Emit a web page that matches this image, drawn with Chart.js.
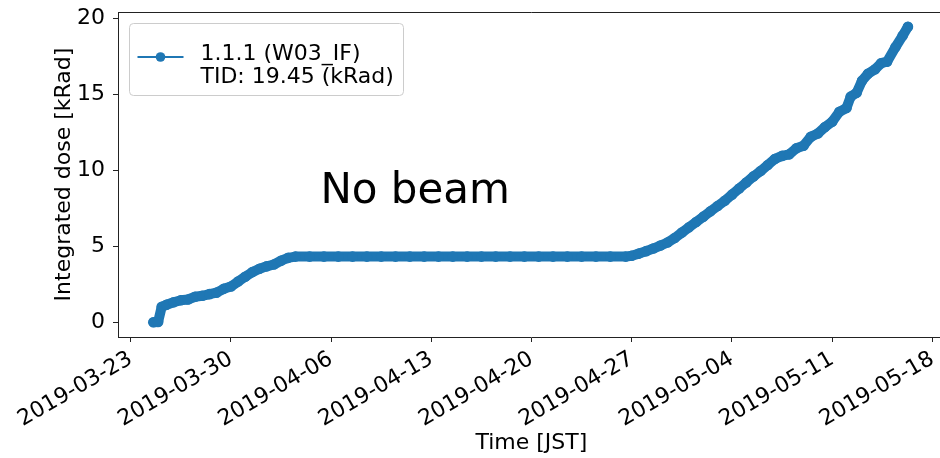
<!DOCTYPE html>
<html><head><meta charset="utf-8">
<script src="https://cdn.jsdelivr.net/npm/chart.js@4/dist/chart.umd.min.js"></script>
<style>
html,body{margin:0;padding:0;overflow:hidden;background:#fff;width:940px;height:458px;}
#wrap{position:relative;width:950px;height:458px;}
</style></head><body>
<div id="wrap"><canvas id="c" width="950" height="458"></canvas></div>
<script>
// ---- data ----
const times = [
 '2019-03-24 14:00','2019-03-24 22:00','2019-03-25 04:00','2019-03-25 12:00',
 '2019-03-26 00:00','2019-03-26 12:00','2019-03-27 00:00','2019-03-27 12:00',
 '2019-03-28 00:00','2019-03-28 12:00','2019-03-29 00:00','2019-03-29 12:00',
 '2019-03-30 00:00','2019-03-30 12:00','2019-03-31 00:00','2019-03-31 12:00',
 '2019-04-01 00:00','2019-04-01 12:00','2019-04-02 00:00','2019-04-02 12:00',
 '2019-04-03 00:00','2019-04-03 12:00','2019-04-04 12:00','2019-04-05 12:00',
 '2019-04-06 12:00','2019-04-07 12:00','2019-04-08 12:00','2019-04-09 12:00',
 '2019-04-10 12:00','2019-04-11 12:00','2019-04-12 12:00','2019-04-13 12:00',
 '2019-04-14 12:00','2019-04-15 12:00','2019-04-16 12:00','2019-04-17 12:00',
 '2019-04-18 12:00','2019-04-19 12:00','2019-04-20 12:00','2019-04-21 12:00',
 '2019-04-22 12:00','2019-04-23 12:00','2019-04-24 12:00','2019-04-25 12:00',
 '2019-04-26 14:00','2019-04-27 00:00','2019-04-27 12:00','2019-04-28 00:00',
 '2019-04-28 12:00','2019-04-29 00:00','2019-04-29 12:00','2019-04-30 00:00',
 '2019-04-30 12:00','2019-05-01 00:00','2019-05-01 12:00','2019-05-02 00:00',
 '2019-05-02 12:00','2019-05-03 00:00','2019-05-03 12:00','2019-05-04 00:00',
 '2019-05-04 12:00','2019-05-05 00:00','2019-05-05 12:00','2019-05-06 00:00',
 '2019-05-06 12:00','2019-05-07 00:00','2019-05-07 12:00','2019-05-08 00:00',
 '2019-05-08 12:00','2019-05-09 00:00','2019-05-09 12:00','2019-05-10 00:00',
 '2019-05-10 12:00','2019-05-11 00:00','2019-05-11 12:00','2019-05-12 00:00',
 '2019-05-12 07:00','2019-05-12 17:00','2019-05-13 02:00','2019-05-13 12:00',
 '2019-05-14 00:00','2019-05-14 10:00','2019-05-14 20:00','2019-05-15 10:00',
 '2019-05-15 22:00','2019-05-16 07:00'
];
const dose = [
 0.00, 0.02, 1.02, 1.15,
 1.32, 1.45, 1.50, 1.68,
 1.74, 1.85, 1.95, 2.20,
 2.35, 2.68, 3.00, 3.30,
 3.52, 3.68, 3.80, 4.05,
 4.24, 4.32, 4.32, 4.32,
 4.32, 4.32, 4.32, 4.32,
 4.32, 4.32, 4.32, 4.32,
 4.32, 4.32, 4.32, 4.32,
 4.32, 4.32, 4.32, 4.32,
 4.32, 4.32, 4.32, 4.32,
 4.32, 4.38, 4.52, 4.68,
 4.85, 5.05, 5.25, 5.55,
 5.90, 6.25, 6.60, 6.95,
 7.30, 7.65, 8.00, 8.40,
 8.80, 9.20, 9.60, 9.95,
 10.35, 10.75, 10.95, 11.05,
 11.45, 11.62, 12.20, 12.42,
 12.85, 13.20, 13.85, 14.10,
 14.85, 15.10, 15.90, 16.35,
 16.65, 17.05, 17.15, 18.10,
 18.85, 19.45
];
const xTickDates = ['2019-03-23','2019-03-30','2019-04-06','2019-04-13','2019-04-20',
                    '2019-04-27','2019-05-04','2019-05-11','2019-05-18'];
const yTickValues = [0, 5, 10, 15, 20];
const seriesLabel = ['1.1.1 (W03_IF)', 'TID: 19.45 (kRad)'];
const annotationText = 'No beam';
const annotationAt = ['2019-04-05 06:00', 7.85];
const xTitle = 'Time [JST]';
const yTitle = 'Integrated dose [kRad]';
const xRange = ['2019-03-22 02:44', '2019-05-18 20:38'];
const yRange = [-0.97, 20.42];

// ---- helpers ----
function toMs(s){ const p = s.split(' '); return Date.parse(p[0] + 'T' + (p[1] || '00:00') + ':00Z'); }
function fmtDate(v){ return new Date(v).toISOString().slice(0, 10); }
const FONT = "'DejaVu Sans', sans-serif";
const FS = 22;
const BLUE = '#1f77b4';
const AXIS = '#222222';

const framePlugin = {
  id: 'frame',
  afterDraw(chart){
    const {ctx, chartArea: a} = chart;
    ctx.save();
    ctx.strokeStyle = AXIS; ctx.lineWidth = 1;
    ctx.beginPath();
    ctx.moveTo(a.left, a.top + 0.5); ctx.lineTo(a.right, a.top + 0.5);
    ctx.moveTo(a.right - 0.5, a.top); ctx.lineTo(a.right - 0.5, a.bottom);
    ctx.stroke();
    ctx.restore();
  }
};

const annotationPlugin = {
  id: 'noBeam',
  afterDatasetsDraw(chart){
    const {ctx, scales} = chart;
    const x = scales.x.getPixelForValue(toMs(annotationAt[0]));
    const y = scales.y.getPixelForValue(annotationAt[1]);
    ctx.save();
    ctx.font = "42px 'DejaVu Sans', sans-serif";
    ctx.fillStyle = '#000';
    ctx.textAlign = 'left'; ctx.textBaseline = 'alphabetic';
    ctx.fillText(annotationText, x, y);
    ctx.restore();
  }
};

const legendPlugin = {
  id: 'insideLegend',
  afterDraw(chart){
    const {ctx, chartArea: a} = chart;
    const ds = chart.data.datasets[0];
    const lines = ds.label.split('\n');
    const bx = a.left + 11.5, by = a.top + 11.5, bw = 274, bh = 72;
    ctx.save();
    ctx.beginPath();
    ctx.roundRect(bx, by, bw, bh, 4);
    ctx.fillStyle = 'rgba(255,255,255,0.8)';
    ctx.fill();
    ctx.strokeStyle = '#cccccc'; ctx.lineWidth = 1;
    ctx.stroke();
    const ly = by + 33.5;
    ctx.strokeStyle = ds.borderColor; ctx.lineWidth = 2;
    ctx.beginPath(); ctx.moveTo(bx + 8, ly); ctx.lineTo(bx + 54, ly); ctx.stroke();
    ctx.fillStyle = ds.borderColor;
    ctx.beginPath(); ctx.arc(bx + 31, ly, 4.8, 0, Math.PI * 2); ctx.fill();
    ctx.fillStyle = '#000';
    ctx.font = FS + 'px ' + FONT;
    ctx.textAlign = 'left'; ctx.textBaseline = 'alphabetic';
    lines.forEach((t, i) => ctx.fillText(t, bx + 71, by + 36 + i * 23.5));
    ctx.restore();
  }
};

new Chart(document.getElementById('c'), {
  type: 'line',
  data: {
    datasets: [{
      label: seriesLabel.join('\n'),
      data: times.map((t, i) => ({x: toMs(t), y: dose[i]})),
      borderColor: BLUE, backgroundColor: BLUE,
      borderWidth: 10, borderJoinStyle: 'round', borderCapStyle: 'round',
      pointRadius: 5.3, pointBorderWidth: 0, pointBackgroundColor: BLUE,
      tension: 0, fill: false
    }]
  },
  options: {
    responsive: false, animation: false, devicePixelRatio: 1,
    layout: {padding: {left: 0, top: 12, right: 5, bottom: 0}},
    plugins: {legend: {display: false}, tooltip: {enabled: false}},
    scales: {
      x: {
        type: 'linear', min: toMs(xRange[0]), max: toMs(xRange[1]),
        afterBuildTicks: s => { s.ticks = xTickDates.map(d => ({value: toMs(d)})); },
        afterFit: s => { s.height = 121; s.paddingLeft = 0; s.paddingRight = 0; },
        ticks: {autoSkip: false, minRotation: 30, maxRotation: 30, padding: 4,
                color: '#000', font: {family: FONT, size: FS}, callback: v => fmtDate(v)},
        grid: {display: true, drawOnChartArea: false, drawTicks: true, tickLength: 5, color: AXIS, lineWidth: 1},
        border: {display: true, color: AXIS, width: 1},
        title: {display: true, text: xTitle, color: '#000', font: {family: FONT, size: FS}, padding: {top: 0, bottom: 1.3}}
      },
      y: {
        type: 'linear', min: yRange[0], max: yRange[1],
        afterBuildTicks: s => { s.ticks = yTickValues.map(v => ({value: v})); },
        afterFit: s => { s.width = 118; s.paddingTop = 0; s.paddingBottom = 0; },
        ticks: {padding: 8, color: '#000', font: {family: FONT, size: FS}},
        grid: {display: true, drawOnChartArea: false, drawTicks: true, tickLength: 5, color: AXIS, lineWidth: 1},
        border: {display: true, color: AXIS, width: 1},
        title: {display: true, text: yTitle, color: '#000', font: {family: FONT, size: FS}, padding: {top: 51.3, bottom: 0}}
      }
    }
  },
  plugins: [framePlugin, annotationPlugin, legendPlugin]
});
</script>
</body></html>
